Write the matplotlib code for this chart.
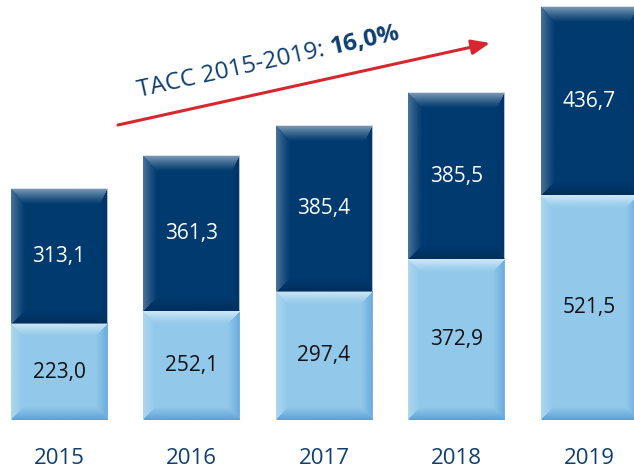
import numpy as np
import matplotlib
matplotlib.use('Agg')
import matplotlib.pyplot as plt
from matplotlib.colors import to_rgb

# data
years = ['2015', '2016', '2017', '2018', '2019']
bottom_vals = [223.0, 252.1, 297.4, 372.9, 521.5]
top_vals = [313.1, 361.3, 385.4, 385.5, 436.7]
growth_label = 'TACC 2015-2019: '
growth_value = '16,0%'

DARK = '#003a6e'
LIGHT = '#92c8ea'
TEXT_BLUE = '#0e3f70'
RED = '#d7262e'
FONT = 'Open Sans'

plt.rcParams['font.family'] = [FONT, 'DejaVu Sans']

fig = plt.figure(figsize=(6.34, 4.72), dpi=100)
ax = fig.add_axes([0, 0.110, 1, 0.877])
ax.set_xlim(-0.445, 4.34)
ax.set_ylim(0, 960)
ax.axis('off')

x = np.arange(len(years))
width = 0.725


def fmt(v):
    return f'{v:.1f}'.replace('.', ',')


def bevel(w, h, edges):
    """RGBA overlay: each pixel takes the colour of its nearest edge,
    fading out over that edge's thickness (mitred corners)."""
    rows, cols = np.mgrid[0:h, 0:w]
    dist = {'top': rows, 'bottom': h - 1 - rows,
            'left': cols, 'right': w - 1 - cols}
    img = np.zeros((h, w, 4))
    best = np.full((h, w), np.inf)
    for side, (col, thick, amax) in edges.items():
        d = dist[side] / thick
        mask = d < best
        best = np.where(mask, d, best)
        a = np.clip(1 - d, 0, 1) ** 1.2 * amax
        img[mask, :3] = to_rgb(col)
        img[mask, 3] = a[mask]
    return img


dark_edges = {'top': ('#c4d2e0', 16, 0.65), 'left': ('#7896b6', 14, 0.6),
              'bottom': ('#00244f', 14, 0.5), 'right': ('#002a5a', 8, 0.3)}
light_edges = {'top': ('#d8edf9', 13, 0.85), 'left': ('#b8def3', 12, 0.7),
               'bottom': ('#5aa0d8', 13, 0.95), 'right': ('#62a6dc', 12, 0.85)}

px_x = fig.get_figwidth() * fig.dpi * ax.get_position().width / np.diff(ax.get_xlim())[0]
px_y = fig.get_figheight() * fig.dpi * ax.get_position().height / np.diff(ax.get_ylim())[0]

b1 = ax.bar(x, bottom_vals, width, color=LIGHT, zorder=1)
b2 = ax.bar(x, top_vals, width, bottom=bottom_vals, color=DARK, zorder=1)

for xi, lo, hi in zip(x, bottom_vals, top_vals):
    segs = [(0, lo, light_edges), (lo, lo + hi, dark_edges)]
    for y0, y1, edges in segs:
        w_px = int(round(width * px_x))
        h_px = int(round((y1 - y0) * px_y))
        ax.imshow(bevel(w_px, h_px, edges),
                  extent=(xi - width / 2, xi + width / 2, y0, y1),
                  aspect='auto', interpolation='bilinear', zorder=2)
    ax.text(xi, lo / 2, fmt(lo), ha='center', va='center',
            fontsize=15, color='#111111', zorder=3)
    ax.text(xi, lo + hi / 2, fmt(hi), ha='center', va='center',
            fontsize=15, color='white', zorder=3)
    ax.text(xi, -88, years[xi], ha='center', va='center',
            fontsize=16, color=TEXT_BLUE, zorder=3, clip_on=False)

ax.set_xlim(-0.445, 4.34)
ax.set_ylim(0, 960)

# growth arrow
W, H = 634, 472
ax.annotate('', xy=(490 / W, 1 - 43 / H), xytext=(118 / W, 1 - 125 / H),
            xycoords='figure fraction', textcoords='figure fraction',
            arrowprops=dict(arrowstyle='-|>,head_length=1.1,head_width=0.45',
                            color=RED, lw=2.2, shrinkA=0, shrinkB=0))

angle = 12.5
x0, y0 = 139, H - 97
fs = 17.5
t1 = fig.text(x0 / W, y0 / H, growth_label, rotation=angle, rotation_mode='anchor',
              ha='left', va='baseline', fontsize=fs, color=TEXT_BLUE)
# measure unrotated width to place the bold part
tmp = fig.text(0, 0, growth_label, fontsize=fs)
fig.canvas.draw()
w1 = tmp.get_window_extent().width
tmp.remove()
rad = np.deg2rad(angle)
fig.text((x0 + w1 * np.cos(rad)) / W, (y0 + w1 * np.sin(rad)) / H, growth_value,
         rotation=angle, rotation_mode='anchor', ha='left', va='baseline',
         fontsize=fs, fontweight='bold', color=TEXT_BLUE)

fig.savefig('out.png', dpi=100)
